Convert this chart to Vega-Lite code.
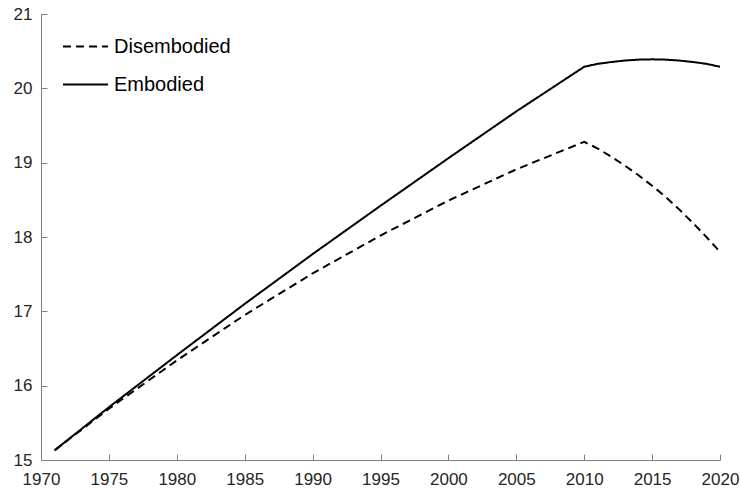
{
  "$schema": "https://vega.github.io/schema/vega-lite/v6.json",
  "width": 679,
  "height": 446,
  "autosize": {"type": "none"},
  "padding": {"left": 41, "top": 14, "right": 20, "bottom": 29},
  "background": "white",
  "config": {
    "view": {"stroke": null},
    "font": "Liberation Sans",
    "axis": {
      "grid": false,
      "domainColor": "#808080",
      "tickColor": "#808080",
      "domainWidth": 1,
      "tickWidth": 1,
      "labelFont": "Liberation Sans",
      "labelFontSize": 17,
      "labelColor": "#262626",
      "title": null
    }
  },
  "data": {
    "values": [
      {"year": 1971, "series": "Disembodied", "value": 15.13},
      {"year": 1975, "series": "Disembodied", "value": 15.69},
      {"year": 1980, "series": "Disembodied", "value": 16.34},
      {"year": 1985, "series": "Disembodied", "value": 16.95},
      {"year": 1990, "series": "Disembodied", "value": 17.51},
      {"year": 1995, "series": "Disembodied", "value": 18.02},
      {"year": 2000, "series": "Disembodied", "value": 18.49},
      {"year": 2005, "series": "Disembodied", "value": 18.91},
      {"year": 2010, "series": "Disembodied", "value": 19.28},
      {"year": 2011, "series": "Disembodied", "value": 19.19},
      {"year": 2012, "series": "Disembodied", "value": 19.08},
      {"year": 2013, "series": "Disembodied", "value": 18.96},
      {"year": 2014, "series": "Disembodied", "value": 18.83},
      {"year": 2015, "series": "Disembodied", "value": 18.69},
      {"year": 2016, "series": "Disembodied", "value": 18.54},
      {"year": 2017, "series": "Disembodied", "value": 18.37},
      {"year": 2018, "series": "Disembodied", "value": 18.19},
      {"year": 2019, "series": "Disembodied", "value": 18.00},
      {"year": 2020, "series": "Disembodied", "value": 17.80},
      {"year": 1971, "series": "Embodied", "value": 15.13},
      {"year": 1975, "series": "Embodied", "value": 15.71},
      {"year": 1980, "series": "Embodied", "value": 16.41},
      {"year": 1985, "series": "Embodied", "value": 17.10},
      {"year": 1990, "series": "Embodied", "value": 17.77},
      {"year": 1995, "series": "Embodied", "value": 18.42},
      {"year": 2000, "series": "Embodied", "value": 19.06},
      {"year": 2005, "series": "Embodied", "value": 19.69},
      {"year": 2010, "series": "Embodied", "value": 20.29},
      {"year": 2011, "series": "Embodied", "value": 20.33},
      {"year": 2012, "series": "Embodied", "value": 20.354},
      {"year": 2013, "series": "Embodied", "value": 20.374},
      {"year": 2014, "series": "Embodied", "value": 20.386},
      {"year": 2015, "series": "Embodied", "value": 20.39},
      {"year": 2016, "series": "Embodied", "value": 20.386},
      {"year": 2017, "series": "Embodied", "value": 20.374},
      {"year": 2018, "series": "Embodied", "value": 20.354},
      {"year": 2019, "series": "Embodied", "value": 20.33},
      {"year": 2020, "series": "Embodied", "value": 20.29}
    ]
  },
  "layer": [
    {
      "mark": {"type": "line", "color": "black", "strokeWidth": 2, "strokeCap": "butt"},
      "encoding": {
        "x": {
          "field": "year",
          "type": "quantitative",
          "scale": {"domain": [1970, 2020], "nice": false, "zero": false},
          "axis": {"orient": "bottom", "values": [1970, 1975, 1980, 1985, 1990, 1995, 2000, 2005, 2010, 2015, 2020], "format": "d", "ticks": false, "labelPadding": 11, "labelFlush": false, "labelOverlap": false}
        },
        "y": {
          "field": "value",
          "type": "quantitative",
          "scale": {"domain": [15, 21], "nice": false, "zero": false},
          "axis": {"orient": "left", "values": [15, 16, 17, 18, 19, 20, 21], "ticks": false, "labelPadding": 9, "labelFlush": false, "labelOverlap": false}
        },
        "strokeDash": {
          "field": "series",
          "type": "nominal",
          "scale": {"domain": ["Disembodied", "Embodied"], "range": [[8, 5], [1, 0]]},
          "legend": {
            "title": null,
            "orient": "none",
            "legendX": 21,
            "legendY": 9,
            "padding": 0,
            "symbolSize": 2025,
            "symbolStrokeWidth": 2,
            "symbolStrokeColor": "black",
            "labelFont": "Liberation Sans",
            "labelFontSize": 20,
            "labelColor": "#000000",
            "labelOffset": 5,
            "rowPadding": 4
          }
        }
      }
    },
    {
      "mark": {"type": "line", "strokeOpacity": 0, "strokeWidth": 0},
      "encoding": {
        "x": {
          "field": "year",
          "type": "quantitative",
          "axis": {"orient": "top", "offset": -446, "values": [1970, 1975, 1980, 1985, 1990, 1995, 2000, 2005, 2010, 2015, 2020], "labels": false, "domain": false, "ticks": true, "tickSize": 6}
        },
        "y": {
          "field": "value",
          "type": "quantitative",
          "axis": {"orient": "right", "offset": -679, "values": [15, 16, 17, 18, 19, 20, 21], "labels": false, "domain": false, "ticks": true, "tickSize": 6}
        },
        "detail": {"field": "series", "type": "nominal"}
      }
    }
  ],
  "resolve": {"axis": {"x": "independent", "y": "independent"}}
}
